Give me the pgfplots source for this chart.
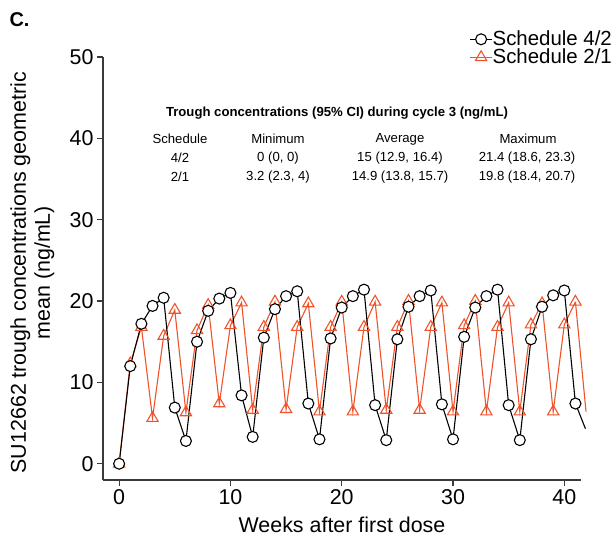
\documentclass[border=0pt]{standalone}
\usepackage{fontspec}
\setmainfont{Liberation Sans}
\usepackage{pgfplots}
\pgfplotsset{compat=1.18}
\definecolor{sredc}{HTML}{F0522A}
\definecolor{axgray}{HTML}{3A3A3A}
\begin{document}
\begin{tikzpicture}[x=1bp,y=1bp]
\path[use as bounding box] (0,0) rectangle (616,537);
\begin{axis}[
  at={(103bp,57bp)}, anchor=south west,
  scale only axis, width=478bp, height=423bp,
  xmin=-1.45, xmax=41.5, ymin=-2, ymax=50,
  axis x line*=bottom, axis y line*=left,
  axis line style={axgray, line width=1.1pt},
  xtick={0,10,20,30,40}, ytick={0,10,20,30,40,50},
  tick align=outside, major tick length=6bp,
  tick style={axgray, line width=1.1pt},
  /pgf/number format/assume math mode=true,
  ticklabel style={font=\fontsize{21.5}{23}\selectfont},
  label style={font=\fontsize{21.5}{24}\selectfont},
  xlabel={Weeks after first dose},
  xlabel style={at={(axis description cs:0.5,-0.105)}, anchor=center},
  ylabel={SU12662 trough concentrations geometric\\mean (ng/mL)},
  ylabel style={align=center, at={(axis description cs:-0.148,0.49)}, anchor=center},
  clip=false,
  legend style={draw=none, fill=none, at={(rel axis cs:1.065,1.063)}, anchor=north east,
    font=\fontsize{20.5}{21}\selectfont, row sep=0.5bp, inner sep=0pt,
    nodes={inner sep=0bp, text height=14.5bp, text depth=3bp},
    /tikz/every even column/.append style={column sep=4bp}},
  legend cell align=left,
  legend image code/.code={\draw[mark repeat=2,mark phase=2,#1] plot coordinates {(0bp,0bp) (11bp,0bp) (22bp,0bp)};},
  reverse legend,
]
\addplot[sredc, line width=1.1pt, mark=triangle, mark size=6.5bp, mark options={fill=white, solid, line width=1.1pt}]
coordinates {
(0,0) (1,12.3) (2,16.8) (3,5.6) (4,15.7) (5,18.9) (6,6.3) (7,16.4) (8,19.5) (9,7.4)
(10,17.0) (11,19.8) (12,6.6) (13,16.8) (14,19.9) (15,6.7) (16,16.8) (17,19.7) (18,6.4) (19,16.8)
(20,19.9) (21,6.4) (22,16.8) (23,19.9) (24,6.6) (25,16.8) (26,20.0) (27,6.6) (28,16.8) (29,19.8)
(30,6.4) (31,17.0) (32,20.0) (33,6.4) (34,16.8) (35,19.8) (36,6.4) (37,17.1) (38,19.7) (39,6.4)
(40,17.1) (41,19.9)
};
\addlegendentry{Schedule 2/1}
\addplot[sredc, line width=1.1pt, forget plot] coordinates {(41,19.9) (41.95,6.4)};
\addplot[black, line width=1.1pt, mark=*, mark size=5.5bp, mark options={fill=white, draw=black, line width=1.1pt}]
coordinates {
(0,0) (1,12.0) (2,17.2) (3,19.4) (4,20.4) (5,6.9) (6,2.8) (7,15.0) (8,18.8) (9,20.3)
(10,21.0) (11,8.4) (12,3.3) (13,15.5) (14,19.0) (15,20.6) (16,21.2) (17,7.4) (18,3.0) (19,15.4)
(20,19.2) (21,20.6) (22,21.4) (23,7.2) (24,2.9) (25,15.3) (26,19.3) (27,20.6) (28,21.3) (29,7.3)
(30,3.0) (31,15.6) (32,19.2) (33,20.6) (34,21.4) (35,7.2) (36,2.9) (37,15.3) (38,19.3) (39,20.7)
(40,21.3) (41,7.4)
};
\addlegendentry{Schedule 4/2}
\addplot[black, line width=1.1pt, forget plot] coordinates {(41,7.4) (41.9,4.3)};
\end{axis}
\node[anchor=west, font=\bfseries\fontsize{20}{22}\selectfont] at (6,517) {C.};
\begin{scope}[every node/.style={font=\fontsize{13.2}{15}\selectfont}]
\node[font=\bfseries\fontsize{13.2}{15}\selectfont] at (337,424) {Trough concentrations (95\% CI) during cycle 3 (ng/mL)};
\node at (180,398) {Schedule};
\node at (278,398) {Minimum};
\node at (400,398) {Average};
\node at (528,398) {Maximum};
\node at (180,379) {4/2};
\node at (278,379) {0 (0, 0)};
\node at (400,379) {15 (12.9, 16.4)};
\node at (527,379) {21.4 (18.6, 23.3)};
\node at (180,360) {2/1};
\node at (278,360) {3.2 (2.3, 4)};
\node at (400,360) {14.9 (13.8, 15.7)};
\node at (527,360) {19.8 (18.4, 20.7)};
\end{scope}
\end{tikzpicture}
\end{document}
